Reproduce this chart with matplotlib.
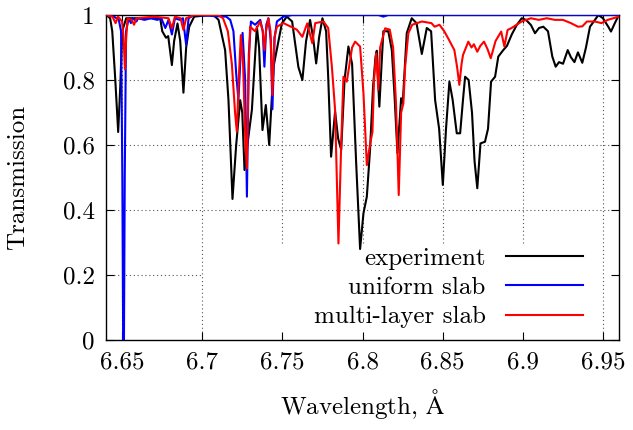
import matplotlib
matplotlib.use("Agg")
import matplotlib.pyplot as plt

plt.rcParams['font.family'] = ['cmr10', 'DejaVu Serif']
plt.rcParams['mathtext.fontset'] = 'cm'
plt.rcParams['axes.formatter.use_mathtext'] = True

# ---------------- data ----------------
exp_wl = [6.6402, 6.6426, 6.6439, 6.6458, 6.6476, 6.6489, 6.6501, 6.6526, 6.6613, 6.6738,
          6.6751, 6.6774, 6.6788, 6.6811, 6.6825, 6.6846, 6.6863, 6.6883, 6.6900, 6.6919,
          6.6950, 6.7050, 6.7081, 6.7102, 6.7143, 6.7164, 6.7189, 6.7212, 6.7237, 6.7250,
          6.7264, 6.7287, 6.7310, 6.7341, 6.7355, 6.7376, 6.7397, 6.7418, 6.7445, 6.7497,
          6.7528, 6.7561, 6.7600, 6.7625, 6.7648, 6.7673, 6.7692, 6.7711, 6.7729, 6.7750,
          6.7773, 6.7786, 6.7804, 6.7829, 6.7848, 6.7867, 6.7888, 6.7912, 6.7935, 6.7960,
          6.7985, 6.8006, 6.8027, 6.8047, 6.8066, 6.8081, 6.8089, 6.8105, 6.8130, 6.8161,
          6.8183, 6.8200, 6.8218, 6.8241, 6.8251, 6.8276, 6.8307, 6.8337, 6.8370, 6.8401,
          6.8428, 6.8453, 6.8478, 6.8501, 6.8521, 6.8542, 6.8562, 6.8588, 6.8609, 6.8627,
          6.8640, 6.8662, 6.8683, 6.8699, 6.8716, 6.8736, 6.8764, 6.8783, 6.8802, 6.8827,
          6.8847, 6.8878, 6.8901, 6.8931, 6.8962, 6.8993, 6.9020, 6.9051, 6.9076, 6.9101,
          6.9128, 6.9157, 6.9184, 6.9205, 6.9226, 6.9251, 6.9280, 6.9300, 6.9322, 6.9344,
          6.9371, 6.9394, 6.9419, 6.9450, 6.9471, 6.9500, 6.9533, 6.9550, 6.9574, 6.9599]
exp_tr = [1.000, 0.990, 0.950, 0.800, 0.640, 0.780, 0.950, 0.990, 0.990, 0.990,
          0.950, 0.930, 0.935, 0.846, 0.920, 0.974, 0.920, 0.761, 0.900, 0.964,
          0.995, 1.000, 0.995, 0.985, 0.892, 0.738, 0.434, 0.600, 0.738, 0.700,
          0.523, 0.620, 0.708, 0.964, 0.900, 0.646, 0.723, 0.600, 0.841, 0.974,
          0.995, 0.980, 0.840, 0.800, 0.920, 0.985, 0.930, 0.851, 0.930, 0.990,
          0.950, 0.810, 0.564, 0.703, 0.620, 0.585, 0.800, 0.903, 0.850, 0.550,
          0.280, 0.390, 0.441, 0.585, 0.780, 0.870, 0.890, 0.718, 0.950, 0.950,
          0.892, 0.750, 0.575, 0.744, 0.728, 0.944, 0.990, 0.975, 0.880, 0.960,
          0.950, 0.738, 0.650, 0.477, 0.650, 0.795, 0.740, 0.636, 0.636, 0.740,
          0.810, 0.800, 0.700, 0.550, 0.467, 0.605, 0.610, 0.650, 0.795, 0.810,
          0.872, 0.892, 0.905, 0.940, 0.969, 0.990, 0.985, 0.969, 0.944, 0.960,
          0.964, 0.950, 0.872, 0.841, 0.855, 0.850, 0.892, 0.870, 0.855, 0.885,
          0.853, 0.900, 0.964, 0.985, 1.000, 0.990, 0.964, 0.949, 0.975, 1.000]

uni_wl = [6.6402, 6.6450, 6.6480, 6.6494, 6.6502, 6.6507, 6.6512, 6.6517, 6.6525, 6.6535,
          6.6545, 6.6555, 6.6565, 6.6590, 6.6600, 6.6640, 6.6680, 6.6720, 6.6745, 6.6770,
          6.6790, 6.6811, 6.6830, 6.6860, 6.6880, 6.6900, 6.6915, 6.6950, 6.7150, 6.7175,
          6.7195, 6.7212, 6.7226, 6.7242, 6.7252, 6.7268, 6.7279, 6.7291, 6.7304, 6.7330,
          6.7362, 6.7378, 6.7388, 6.7400, 6.7413, 6.7428, 6.7438, 6.7452, 6.7466, 6.7507,
          6.7560, 6.8100, 6.8130, 6.8160, 6.9599]
uni_tr = [1.000, 0.995, 0.985, 0.950, 0.500, 0.000, 0.000, 0.500, 0.950, 0.975,
          0.990, 0.975, 0.990, 0.980, 0.990, 0.985, 0.990, 0.985, 0.990, 0.960,
          0.985, 0.940, 0.990, 0.985, 0.990, 0.908, 0.990, 1.000, 0.995, 0.985,
          0.950, 0.820, 0.738, 0.900, 0.945, 0.800, 0.441, 0.880, 0.980, 0.970,
          0.985, 0.950, 0.841, 0.970, 0.990, 0.920, 0.710, 0.930, 0.980, 0.995,
          1.000, 1.000, 0.995, 1.000, 1.000]

ml_wl = [6.6402, 6.6440, 6.6460, 6.6475, 6.6500, 6.6510, 6.6518, 6.6526, 6.6535, 6.6560,
         6.6575, 6.6590, 6.6700, 6.6790, 6.6811, 6.6830, 6.6865, 6.6883, 6.6900, 6.6950,
         6.7100, 6.7130, 6.7160, 6.7185, 6.7205, 6.7216, 6.7228, 6.7241, 6.7255, 6.7270,
         6.7279, 6.7288, 6.7299, 6.7330, 6.7362, 6.7378, 6.7388, 6.7398, 6.7413, 6.7426,
         6.7438, 6.7450, 6.7466, 6.7507, 6.7549, 6.7590, 6.7625, 6.7655, 6.7687, 6.7705,
         6.7756, 6.7786, 6.7809, 6.7829, 6.7850, 6.7867, 6.7881, 6.7902, 6.7913, 6.7935,
         6.7954, 6.7985, 6.8006, 6.8027, 6.8040, 6.8054, 6.8062, 6.8072, 6.8085, 6.8099,
         6.8110, 6.8141, 6.8170, 6.8191, 6.8209, 6.8226, 6.8241, 6.8255, 6.8266, 6.8286,
         6.8310, 6.8370, 6.8430, 6.8450, 6.8480, 6.8510, 6.8540, 6.8573, 6.8590, 6.8604,
         6.8618, 6.8627, 6.8660, 6.8680, 6.8695, 6.8716, 6.8735, 6.8758, 6.8780, 6.8800,
         6.8830, 6.8865, 6.8885, 6.8905, 6.8930, 6.8993, 6.9050, 6.9100, 6.9150, 6.9200,
         6.9250, 6.9300, 6.9344, 6.9371, 6.9400, 6.9450, 6.9490, 6.9530, 6.9599]
ml_tr = [1.000, 0.995, 0.975, 0.995, 0.980, 0.930, 0.833, 0.930, 0.990, 0.985,
         0.970, 0.990, 0.995, 0.990, 0.959, 0.995, 0.990, 0.954, 0.990, 1.000,
         1.000, 0.990, 0.950, 0.850, 0.700, 0.641, 0.800, 0.938, 0.850, 0.600,
         0.528, 0.800, 0.964, 0.950, 0.980, 0.950, 0.892, 0.950, 0.990, 0.950,
         0.754, 0.930, 0.964, 0.975, 0.965, 0.955, 0.933, 0.974, 0.913, 0.975,
         0.980, 0.960, 0.841, 0.708, 0.297, 0.600, 0.810, 0.795, 0.830, 0.900,
         0.918, 0.903, 0.759, 0.538, 0.580, 0.620, 0.640, 0.800, 0.882, 0.770,
         0.900, 0.959, 0.955, 0.900, 0.728, 0.446, 0.700, 0.728, 0.840, 0.944,
         0.970, 0.980, 0.975, 0.964, 0.970, 0.950, 0.923, 0.892, 0.840, 0.785,
         0.850, 0.877, 0.918, 0.900, 0.910, 0.887, 0.905, 0.918, 0.895, 0.867,
         0.920, 0.949, 0.903, 0.954, 0.960, 0.980, 0.990, 0.985, 0.990, 0.985,
         0.985, 0.975, 0.964, 0.965, 0.980, 0.980, 0.975, 0.985, 0.995]

series_labels = ['experiment', 'uniform slab', 'multi-layer slab']
x_ticks = [6.65, 6.70, 6.75, 6.80, 6.85, 6.90, 6.95]
x_tick_labels = ['6.65', '6.7', '6.75', '6.8', '6.85', '6.9', '6.95']
y_ticks = [0.0, 0.2, 0.4, 0.6, 0.8, 1.0]
y_tick_labels = ['0', '0.2', '0.4', '0.6', '0.8', '1']

# ---------------- figure ----------------
fig = plt.figure(figsize=(6.33, 4.30), dpi=100)
ax = fig.add_axes([106 / 633, 90 / 430, 513 / 633, 325 / 430])
ax.set_xlim(6.64, 6.96)
ax.set_ylim(0, 1)

# grid (gnuplot style, hidden behind the opaque key box)
box_left_frac = 0.187
box_top_frac = 0.2985
grid_kw = dict(color='#555555', lw=0.8, linestyle=(0, (1, 2.5)), zorder=0.5)
for xt in x_ticks:
    frac = (xt - 6.64) / (6.96 - 6.64)
    ymin = box_top_frac if (box_left_frac + 0.01 < frac < 0.963) else 0.0
    ax.axvline(xt, ymin=ymin, ymax=1, **grid_kw)
for yt in y_ticks[1:-1]:
    xmax = box_left_frac if yt < box_top_frac else 1.0
    ax.axhline(yt, xmin=0, xmax=xmax, **grid_kw)

lw = 1.5
ax.plot(exp_wl, exp_tr, color='black', lw=lw, label=series_labels[0], zorder=3)
ax.plot(uni_wl, uni_tr, color='#0000ff', lw=lw, label=series_labels[1], zorder=3)
ax.plot(ml_wl, ml_tr, color='#ff0000', lw=lw, label=series_labels[2], zorder=3)

ax.set_xticks(x_ticks)
ax.set_xticklabels(x_tick_labels)
ax.set_yticks(y_ticks)
ax.set_yticklabels(y_tick_labels)
ax.tick_params(direction='in', length=6, width=0.8, top=True, right=True,
               labelsize=18, pad=8)
for sp in ax.spines.values():
    sp.set_linewidth(1.0)

ax.set_xlabel('Wavelength, $\\mathrm{\\AA}$', fontsize=18, labelpad=10)
ax.set_ylabel('Transmission', fontsize=18, labelpad=24)

leg = ax.legend(loc='lower right', bbox_to_anchor=(0.93, 0.036), frameon=False,
                markerfirst=False, fontsize=18, handlelength=3.1,
                handletextpad=0.8, labelspacing=0.27, borderpad=0, borderaxespad=0)
leg.set_zorder(4)

fig.savefig('out.png', dpi=100)
